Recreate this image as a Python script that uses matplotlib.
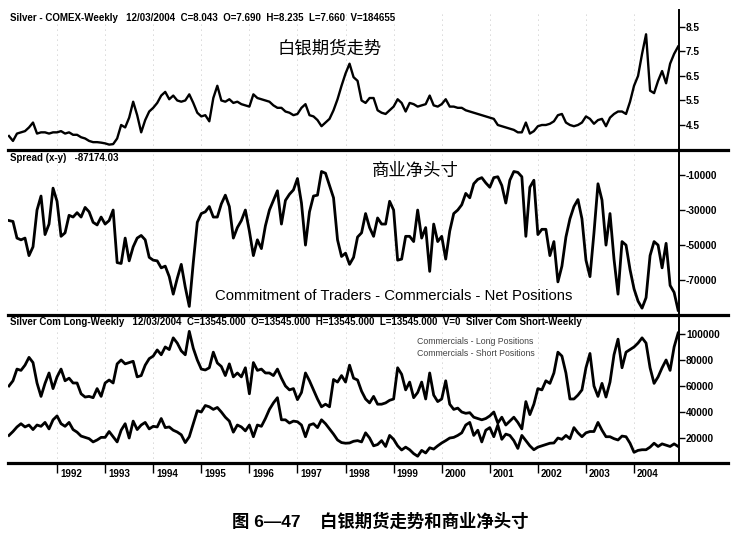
import matplotlib
matplotlib.use("Agg")
import matplotlib.pyplot as plt
from matplotlib.lines import Line2D
import numpy as np

plt.rcParams["font.family"] = ["Liberation Sans", "Noto Sans CJK SC", "DejaVu Sans"]

# monthly values Jan 1991 .. Dec 2004
price = [
    4.05, 3.85, 4.15, 4.2, 4.25, 4.4, 4.6, 4.15, 4.2, 4.2, 4.15, 4.2,
    4.2, 4.25, 4.15, 4.2, 4.1, 4.1, 4.0, 3.95, 3.85, 3.8, 3.8, 3.78,
    3.75, 3.7, 3.72, 3.95, 4.5, 4.4, 4.8, 5.45, 4.9, 4.2, 4.7, 5.05,
    5.2, 5.4, 5.7, 5.85, 5.55, 5.7, 5.5, 5.45, 5.5, 5.75, 5.4, 5.0,
    4.85, 4.9, 4.65, 5.6, 6.1, 5.5, 5.45, 5.55, 5.4, 5.45, 5.35, 5.3,
    5.25, 5.75, 5.6, 5.55, 5.5, 5.45, 5.3, 5.2, 5.2, 5.05, 5.0, 4.9,
    4.95, 5.2, 5.35, 4.9, 4.85, 4.7, 4.45, 4.6, 4.75, 5.1, 5.55, 6.1,
    6.6, 7.0, 6.45, 6.3, 5.5, 5.4, 5.6, 5.6, 5.1, 5.0, 4.95, 5.1,
    5.25, 5.55, 5.4, 5.05, 5.4, 5.35, 5.25, 5.3, 5.35, 5.7, 5.3, 5.25,
    5.35, 5.55, 5.25, 5.25, 5.2, 5.2, 5.1, 5.05, 5.0, 4.95, 4.9, 4.85,
    4.8, 4.75, 4.5, 4.45, 4.4, 4.35, 4.3, 4.2, 4.2, 4.6, 4.15, 4.25,
    4.45, 4.5, 4.5, 4.55, 4.65, 4.9, 4.95, 4.6, 4.5, 4.45, 4.5, 4.6,
    4.85, 4.75, 4.55, 4.7, 4.75, 4.45, 4.8, 4.95, 5.05, 5.05, 4.95, 5.45,
    6.1, 6.5, 7.4, 8.2, 5.9, 5.8, 6.3, 6.7, 6.2, 7.0, 7.4, 7.7,
]

spread = [
    -36000, -36500, -46000, -47000, -46000, -56000, -51000, -30000, -22000, -44000, -38000, -17500,
    -25000, -45000, -43000, -33000, -34000, -31500, -34000, -28500, -31000, -37000, -38500, -34000,
    -38000, -36000, -30000, -60000, -60500, -46000, -59000, -51000, -46000, -44500, -47000, -57000,
    -58600, -59000, -63000, -62000, -68000, -78000, -69000, -61000, -74000, -85000, -60000, -37000,
    -32000, -31000, -28000, -34000, -34000, -26500, -21500, -28000, -46000, -40000, -36000, -30000,
    -42000, -56000, -47000, -52000, -39000, -30000, -24500, -19000, -38000, -24500, -21000, -18500,
    -12000, -26000, -50000, -31000, -22000, -21500, -8000, -9000, -16000, -23000, -47000, -56500,
    -54600, -61000, -57000, -45400, -43000, -32000, -40000, -45000, -34500, -38000, -38000, -25000,
    -30000, -58600, -58000, -45000, -45000, -48000, -30000, -46000, -40000, -65000, -38000, -48000,
    -45000, -58000, -42000, -32000, -30000, -27000, -20500, -23000, -15000, -12500, -11500, -14500,
    -17000, -11500, -11000, -16000, -26000, -13000, -8000, -8500, -11000, -45000, -17000, -13000,
    -44000, -41000, -41000, -56000, -48000, -71000, -62000, -45400, -35000, -28000, -24000, -35000,
    -58600, -68000, -43000, -15000, -24300, -50000, -32000, -58000, -78000, -48000, -50000, -64000,
    -75000, -82000, -86000, -80000, -56000, -48000, -50000, -63000, -49000, -73000, -77000, -87174,
]

com_long = [
    22000, 25000, 28500, 31000, 28500, 30000, 26500, 30000, 29000, 32000, 27000, 34000,
    37000, 31000, 29000, 32000, 26500, 24500, 21500, 20500, 19500, 17000, 18500, 20500,
    20500, 25000, 21000, 17000, 26000, 31000, 20000, 33000, 26500, 30000, 32000, 27000,
    29000, 28500, 35000, 28000, 28500, 26000, 24600, 22500, 16500, 21000, 31000, 41000,
    40000, 45000, 44000, 42000, 43500, 40000, 36000, 33000, 24500, 30000, 28500, 25500,
    30000, 21000, 30000, 29000, 35000, 42000, 47000, 51000, 34000, 34000, 31500, 33000,
    32500, 30000, 21000, 30000, 31000, 28000, 34000, 31000, 27000, 23000, 18500, 16500,
    16000, 16200, 17500, 18000, 17000, 24000, 20000, 14000, 15000, 18000, 13500, 22000,
    19000, 14000, 10800, 13000, 11000, 8000, 6000, 10500, 8500, 12500, 11500, 14000,
    16200, 18000, 20000, 20500, 22000, 24000, 30000, 32000, 22000, 26000, 17000, 26000,
    28000, 21000, 30000, 19000, 23000, 22000, 18000, 12000, 22000, 18000, 14000, 11000,
    13000, 14000, 15000, 16000, 16200, 20000, 19000, 22000, 19500, 28000, 24000, 21000,
    24000, 25000, 25000, 32000, 26000, 21000, 21000, 19500, 18500, 21500, 21000, 16000,
    9000, 10500, 11000, 11000, 13000, 16000, 13500, 15500, 14500, 13500, 15500, 13545,
]

com_short = [
    60000, 64000, 73000, 72000, 76000, 82000, 78000, 62300, 52000, 62000, 70000, 58000,
    67000, 73000, 64000, 66000, 62300, 62300, 54000, 51500, 52000, 51000, 58000, 52000,
    62300, 64600, 62300, 77000, 80000, 77000, 78000, 79000, 67000, 68000, 76000, 81000,
    83000, 87700, 84000, 90000, 88000, 97000, 93000, 87000, 84000, 102000, 89000, 80000,
    73000, 72300, 74000, 86000, 77700, 75000, 68000, 77000, 67000, 70000, 67000, 74000,
    54000, 78000, 72000, 73000, 70000, 70000, 68000, 73000, 66000, 60000, 57000, 58000,
    49500, 55000, 70000, 64000, 57000, 50000, 44000, 46000, 44000, 65000, 63000, 68000,
    63000, 76000, 66000, 64600, 56000, 50000, 47000, 52000, 46000, 46000, 47000, 49000,
    50000, 74000, 69000, 57000, 63000, 51000, 55000, 63000, 50000, 70000, 53000, 48000,
    50000, 64000, 46000, 42000, 43000, 40000, 39000, 39500, 36000, 35000, 34000, 35000,
    37000, 40000, 31500, 36000, 30000, 33000, 36000, 32000, 27000, 48000, 38000, 46000,
    58000, 57000, 64000, 62000, 70000, 86000, 83000, 70000, 50000, 50000, 53000, 57000,
    74000, 85000, 60000, 52000, 62000, 51500, 63000, 84000, 96000, 74000, 86000, 88000,
    90000, 93000, 97000, 93000, 74000, 62000, 67000, 74000, 80000, 72000, 90000, 100719,
]

years = list(range(1992, 2005))
price_ticks = [4.5, 5.5, 6.5, 7.5, 8.5]
spread_ticks = [-10000, -30000, -50000, -70000]
pos_ticks = [20000, 40000, 60000, 80000, 100000]

t = 1991 + np.arange(len(price)) / 12.0

W, H = 734, 536


def box(x0, y0, x1, y1):
    return [x0 / W, 1 - y1 / H, (x1 - x0) / W, (y1 - y0) / H]


def ftext(x, y, s, **kw):
    fig.text(x / W, 1 - y / H, s, **kw)


fig = plt.figure(figsize=(W / 100, H / 100), dpi=100)
ax1 = fig.add_axes(box(8, 10, 679, 150))
ax2 = fig.add_axes(box(8, 151, 679, 315))
ax3 = fig.add_axes(box(8, 316, 679, 463))

for ax in (ax1, ax2, ax3):
    for s in ("top", "left", "bottom"):
        ax.spines[s].set_visible(False)
    ax.spines["right"].set_linewidth(1.4)
    ax.yaxis.tick_right()
    ax.tick_params(axis="y", direction="out", length=4, width=1, pad=1,
                   labelsize=7.3, colors="black")
    ax.set_xlim(1990.98, 2004.935)
    for yr in years:
        ax.axvline(yr, color="#b0b0b0", lw=0.6, ls=(0, (1, 5)), zorder=0)

ax1.plot(t, price, color="black", lw=1.7)
ax1.set_ylim(3.48, 9.19)
ax1.set_yticks(price_ticks)
ax1.set_yticklabels([f"{v:.1f}" for v in price_ticks], fontweight="bold")
ax1.set_xticks([])

ax2.plot(t, spread, color="black", lw=2.0)
ax2.set_ylim(-89900, 3700)
ax2.set_yticks(spread_ticks)
ax2.set_yticklabels([str(v) for v in spread_ticks], fontweight="bold")
ax2.set_xticks([])

ax3.plot(t, com_short, color="black", lw=2.0)
ax3.plot(t, com_long, color="black", lw=2.0)
ax3.set_ylim(800, 113800)
ax3.set_yticks(pos_ticks)
ax3.set_yticklabels([str(v) for v in pos_ticks], fontweight="bold")
ax3.set_xticks(years)
ax3.set_xticklabels([])
ax3.tick_params(axis="x", direction="out", length=7, width=1)
for yr in years:
    ax3.text(yr + 0.06, -0.075, str(yr), transform=ax3.get_xaxis_transform(),
             ha="left", va="center", fontsize=7, fontweight="bold")

# panel separators and bottom rule
for yy in (150, 315, 463):
    fig.add_artist(Line2D([8 / W, 728 / W], [1 - yy / H] * 2, color="black", lw=2.3))

# headers
ftext(10, 18, "Silver - COMEX-Weekly   12/03/2004  C=8.043  O=7.690  H=8.235  L=7.660  V=184655",
      fontsize=7.0, fontweight="bold", va="center")
ftext(10, 158, "Spread (x-y)   -87174.03", fontsize=7.0, fontweight="bold", va="center")
ftext(10, 322, "Silver Com Long-Weekly   12/03/2004  C=13545.000  O=13545.000  H=13545.000  "
      "L=13545.000  V=0  Silver Com Short-Weekly", fontsize=7.0, fontweight="bold", va="center")
ftext(417, 342, "Commercials - Long Positions", fontsize=6.3, color="#444444", va="center")
ftext(417, 353, "Commercials - Short Positions", fontsize=6.3, color="#444444", va="center")

ftext(277, 48, "白银期货走势", fontsize=12.5, va="center")
ftext(372, 171, "商业净头寸", fontsize=12.5, va="center")
ftext(215, 296, "Commitment of Traders - Commercials - Net Positions", fontsize=10.7, va="center")

ftext(380, 521, "图 6—47    白银期货走势和商业净头寸", fontsize=12.5, fontweight="bold",
      ha="center", va="center")

fig.savefig("out.png", dpi=100, facecolor="white")
